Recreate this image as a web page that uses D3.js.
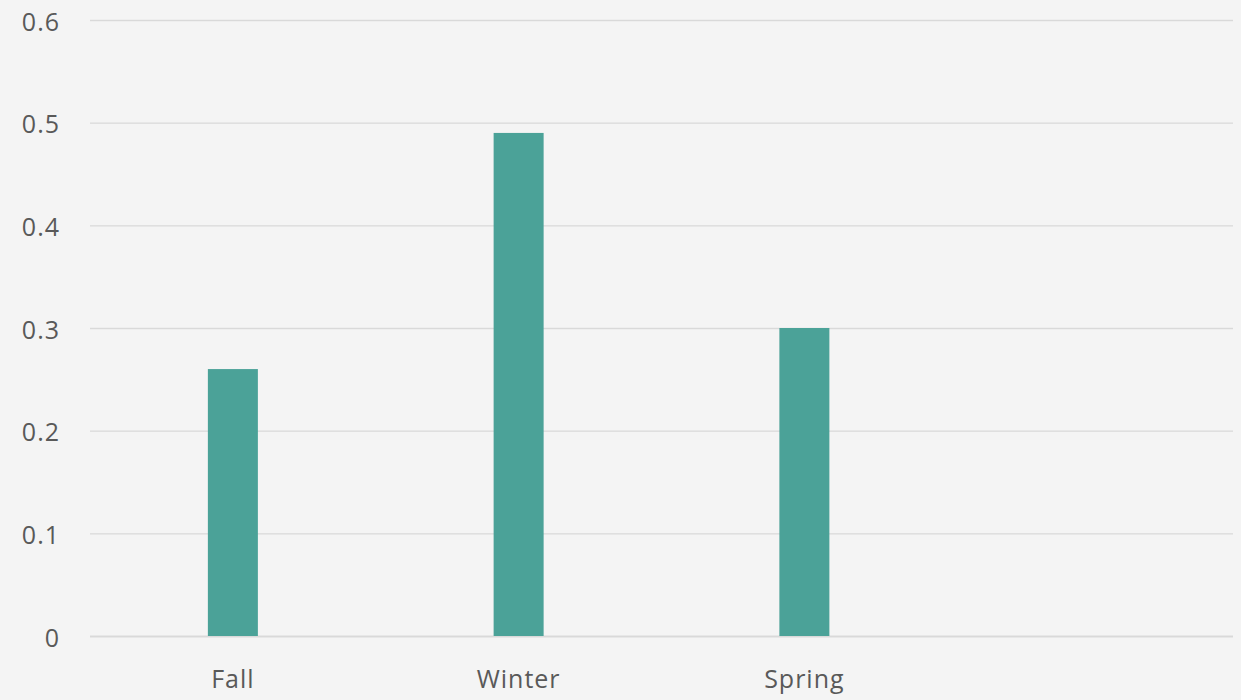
<!DOCTYPE html>
<html>
<head>
<meta charset="utf-8">
<script src="https://d3js.org/d3.v7.min.js"></script>
<style>
  body { margin: 0; background: #f4f4f4; }
  text { font-family: "Open Sans", "Noto Sans", sans-serif; fill: #595959; }
</style>
</head>
<body>
<div id="chart"></div>
<script>
// data
const categories = ["Fall", "Winter", "Spring", ""];
const values = [0.26, 0.49, 0.30, null];
const yTicks = [0, 0.1, 0.2, 0.3, 0.4, 0.5, 0.6];

const W = 1241, H = 700;
const margin = {top: 20, right: 8, bottom: 64, left: 90};
const width = W - margin.left - margin.right,
      height = H - margin.top - margin.bottom;

const svg = d3.select("#chart")
  .append("svg")
    .attr("width", W)
    .attr("height", H)
    .style("background", "#f4f4f4");

const g = svg.append("g")
  .attr("transform", "translate(" + margin.left + "," + margin.top + ")");

const x = d3.scaleBand()
  .domain(categories.map((c, i) => i))
  .range([0, width]);

const y = d3.scaleLinear()
  .domain([0, 0.6])
  .range([height, 0]);

// gridlines
g.append("g")
  .selectAll("line")
  .data(yTicks)
  .enter().append("line")
    .attr("x1", 0)
    .attr("x2", width)
    .attr("y1", d => y(d) + 0.5)
    .attr("y2", d => y(d) + 0.5)
    .attr("stroke", "#d9d9d9")
    .attr("stroke-width", d => d === 0 ? 2 : 1.3);

// y labels
g.append("g")
  .selectAll("text")
  .data(yTicks)
  .enter().append("text")
    .attr("x", -30)
    .attr("y", d => y(d) + 2)
    .attr("dy", "0.35em")
    .attr("text-anchor", "end")
    .style("font-size", "25px")
    .style("letter-spacing", "1px")
    .text(d => d3.format("")(d));

// bars
const barW = 50;
g.append("g")
  .selectAll("rect")
  .data(values.map((v, i) => ({i: i, v: v})).filter(d => d.v != null))
  .enter().append("rect")
    .attr("x", d => x(d.i) + x.bandwidth() / 2 - barW / 2)
    .attr("y", d => y(d.v))
    .attr("width", barW)
    .attr("height", d => height - y(d.v))
    .attr("fill", "#4ba298");

// x labels
g.append("g")
  .selectAll("text")
  .data(categories)
  .enter().append("text")
    .attr("x", (d, i) => x(i) + x.bandwidth() / 2)
    .attr("y", height + 52)
    .attr("text-anchor", "middle")
    .style("font-size", "25px")
    .style("letter-spacing", "1px")
    .text(d => d);
</script>
</body>
</html>
